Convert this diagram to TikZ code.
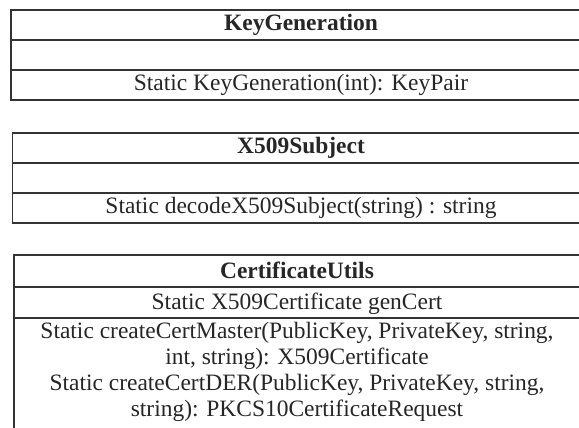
\documentclass[tikz,border=0pt]{standalone}
\usepackage{fontspec}
\setmainfont{Liberation Serif}
\definecolor{umlline}{RGB}{51,51,51}
\definecolor{umltext}{RGB}{38,38,38}
\tikzset{every picture/.style={line width=1pt}}
\tikzset{classtxt/.style={anchor=base,inner sep=0.75pt,text=umltext,font=\fontsize{17.6}{19.3}\selectfont}}

\begin{document}
\begin{tikzpicture}[x=0.75pt,y=0.75pt,yscale=-1,xscale=1]
	\useasboundingbox (0,0) rectangle (579,428);
	\clip (0,0) rectangle (579,428);

	%Shape: Rectangle KeyGeneration
	\draw [color=umlline] (11,10) rectangle (591,100) ;
	%Straight Lines
	\draw [color=umlline] (11,40) -- (591,40) (11,70) -- (591,70) ;
	%Shape: Rectangle X509Subject
	\draw [color=umlline] (12.7,133) rectangle (590,223) ;
	%Straight Lines
	\draw [color=umlline] (12.7,163) -- (590,163) (12.7,193) -- (590,193) ;
	%Shape: Rectangle CertificateUtils
	\draw [color=umlline] (14,255) rectangle (580,460) ;
	%Straight Lines
	\draw [color=umlline] (14,287) -- (580,287) (14,318) -- (580,318) ;

	% Text Node
	\draw (301,31) node [classtxt] (kgName) {\bfseries KeyGeneration};
	% Text Node
	\draw (301,91) node [classtxt] (kgOps) {Static KeyGeneration(int): KeyPair};
	% Text Node
	\draw (301,154) node [classtxt] (xsName) {\bfseries X509Subject};
	% Text Node
	\draw (301,214) node [classtxt] (xsOps) {Static decodeX509Subject(string) : string};
	% Text Node
	\draw (297,278) node [classtxt] (cuName) {\bfseries CertificateUtils};
	% Text Node
	\draw (297,309) node [classtxt] (cuAttr) {Static X509Certificate genCert};
	% Text Node
	\draw (297,321) node [classtxt,anchor=north,align=center] (cuOps) {Static createCertMaster(PublicKey, PrivateKey, string,\\int, string): X509Certificate\\Static createCertDER(PublicKey, PrivateKey, string,\\string): PKCS10CertificateRequest};

\end{tikzpicture}
\end{document}
